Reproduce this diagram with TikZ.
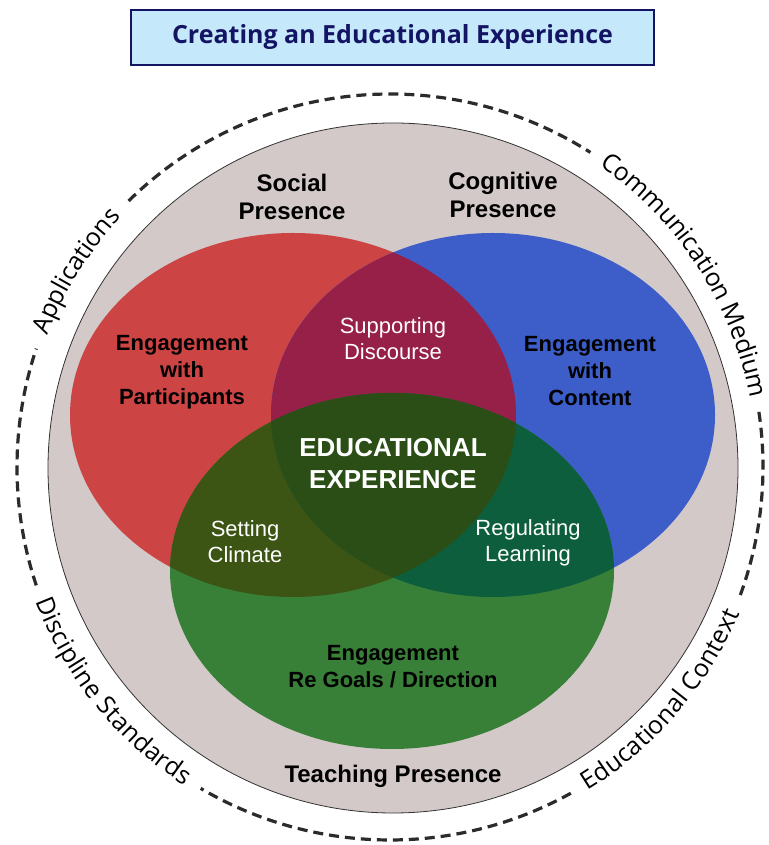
\documentclass[tikz,border=0pt]{standalone}
\usepackage{fontspec}
\setmainfont{Liberation Sans}
\newfontfamily\titlefont{Open Sans}
\newfontfamily\arcfont{Open Sans}
\usetikzlibrary{decorations.text}
\definecolor{redc}{HTML}{CC4444}
\definecolor{bluec}{HTML}{3D5EC8}
\definecolor{greenc}{HTML}{388038}
\definecolor{rbc}{HTML}{962048}
\definecolor{rgc}{HTML}{3C5414}
\definecolor{bgc}{HTML}{0C5E3C}
\definecolor{allc}{HTML}{2A4E16}
\definecolor{grayc}{HTML}{D3C9C8}
\definecolor{titlefill}{HTML}{C5E8FA}
\definecolor{navy}{HTML}{141464}
\definecolor{dashc}{HTML}{2B2B2B}
\begin{document}
\begin{tikzpicture}[x=1pt,y=1pt,
  blacklbl/.style={align=center, font=\fontsize{22}{27}\selectfont\bfseries, text=black, inner sep=0pt},
  presencelbl/.style={align=center, font=\fontsize{24}{28}\selectfont\bfseries, text=black, inner sep=0pt},
  whitelbl/.style={align=center, font=\fontsize{22}{26}\selectfont, text=white, inner sep=0pt},
  dashring/.style={draw=dashc, line width=3.2pt, dash pattern=on 10pt off 6pt},
  arctext/.style={decorate, decoration={text along path, text align=center, raise=-6pt}}]
\useasboundingbox (0,0) rectangle (768,845);
\def\redE{(293,430) ellipse [x radius=223pt, y radius=182pt]}
\def\blueE{(493,430) ellipse [x radius=222pt, y radius=182pt]}
\def\greenE{(392,274) ellipse [x radius=222pt, y radius=178pt]}
\coordinate (C) at (390,378);
\coordinate (G) at (393,377);
% title
\node[draw=navy, line width=2pt, fill=titlefill, minimum width=523pt, minimum height=55pt,
      text=navy, font=\titlefont\fontsize{25}{28}\selectfont\bfseries] (title) at (392.5,807.5)
      {Creating an Educational Experience};
% gray disc
\fill[grayc] (G) circle[radius=345pt];
\draw[black!80, line width=0.8pt] (G) circle[radius=345pt];
% ellipses
\fill[redc] \redE;
\fill[bluec] \blueE;
\fill[greenc] \greenE;
\begin{scope}
  \clip \redE;
  \fill[rbc] \blueE;
  \fill[rgc] \greenE;
\end{scope}
\begin{scope}
  \clip \blueE;
  \fill[bgc] \greenE;
  \clip \redE;
  \fill[allc] \greenE;
\end{scope}
% dashed ring segments
\draw[dashring] ([shift={(134.5:373)}]C) arc[start angle=134.5, end angle=57.5, radius=373pt];
\draw[dashring] ([shift={(8.5:373)}]C) arc[start angle=8.5, end angle=-20.5, radius=373pt];
\draw[dashring] ([shift={(299:373)}]C) arc[start angle=299, end angle=239.5, radius=373pt];
\draw[dashring] ([shift={(198.5:373)}]C) arc[start angle=198.5, end angle=161.5, radius=373pt];
% curved texts
\path[arctext, decoration={text={|\arcfont\fontsize{25}{25}\selectfont|Applications}}]
  ([shift={(168:373)}]C) arc[start angle=168, end angle=128, radius=373pt];
\path[arctext, decoration={text={|\arcfont\fontsize{25}{25}\selectfont|Communication Medium}}]
  ([shift={(66:373)}]C) arc[start angle=66, end angle=0, radius=373pt];
\path[arctext, decoration={text={|\arcfont\fontsize{25}{25}\selectfont|Discipline Standards}}]
  ([shift={(192:373)}]C) arc[start angle=192, end angle=246, radius=373pt];
\path[arctext, decoration={text={|\arcfont\fontsize{25}{25}\selectfont|Educational Context}}]
  ([shift={(292:373)}]C) arc[start angle=292, end angle=346.6, radius=373pt];
% labels
\node[presencelbl] (social) at (292,648) {Social\\Presence};
\node[presencelbl] (cognitive) at (503,650) {Cognitive\\Presence};
\node[blacklbl] (participants) at (182,473) {Engagement\\with\\Participants};
\node[blacklbl] (content) at (590,474) {Engagement\\with\\Content};
\node[whitelbl] (discourse) at (393,506) {Supporting\\Discourse};
\node[align=center, font=\fontsize{26}{32}\selectfont\bfseries, text=white, inner sep=0pt] (edu) at (393,381) {EDUCATIONAL\\EXPERIENCE};
\node[whitelbl] (climate) at (245,303) {Setting\\Climate};
\node[whitelbl] (regulating) at (528,302) {Regulating\\Learning};
\node[blacklbl] (goals) at (393,178) {Engagement\\Re Goals / Direction};
\node[presencelbl] (teaching) at (393,69) {Teaching Presence};
\end{tikzpicture}
\end{document}
